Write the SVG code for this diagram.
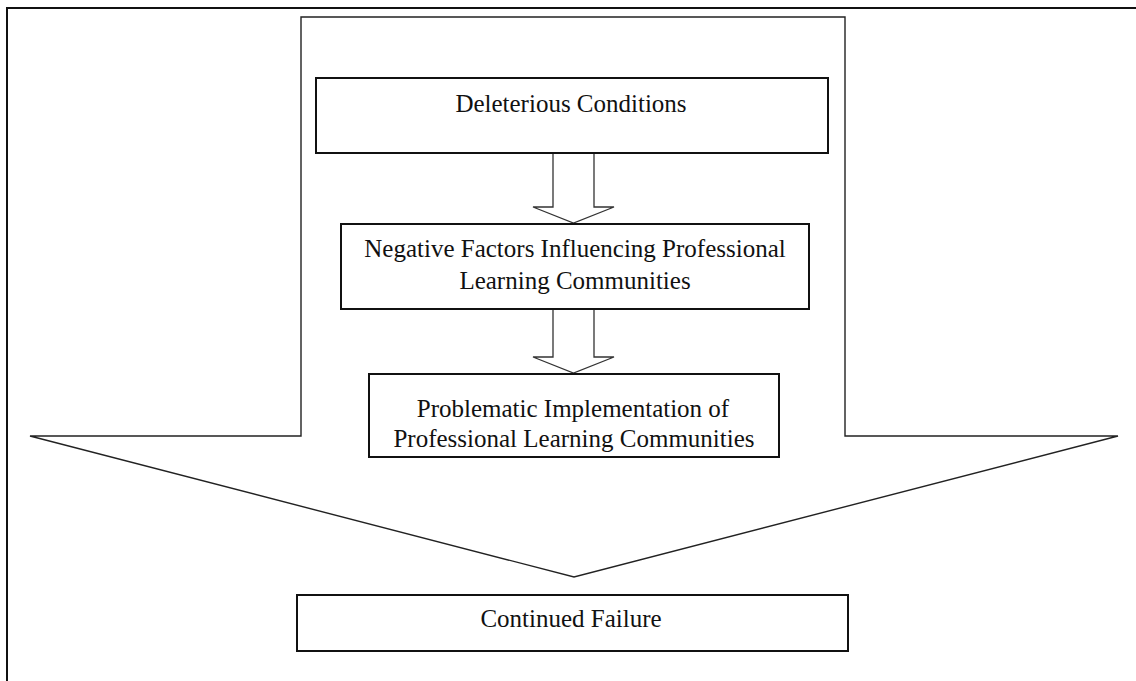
<svg xmlns="http://www.w3.org/2000/svg" width="1136" height="681" viewBox="0 0 1136 681">
  <style>
    .frame { fill: none; stroke: #111; stroke-width: 2; }
    .big { fill: #fff; stroke: #222; stroke-width: 1.4; stroke-linejoin: miter; }
    .box { fill: #fff; stroke: #111; stroke-width: 2; }
    .arrow { fill: #fff; stroke: #333; stroke-width: 1.3; stroke-linejoin: miter; }
    .label { font-family: "Liberation Serif", "Times New Roman", serif; font-size: 25px; fill: #111; text-anchor: middle; }
  </style>
  <rect width="1136" height="681" fill="#fff"/>
  <g id="frame">
    <polyline class="frame" points="1140,8 7,8 7,685"/>
  </g>
  <g id="big-arrow">
    <polygon class="big" points="301,17 845,17 845,436 1118,436 574,577 30,436 301,436"/>
  </g>
  <g id="connectors">
    <polygon class="arrow" points="553,153 594,153 594,207 614,207 573.5,223 533,207 553,207"/>
    <polygon class="arrow" points="553,309 594,309 594,357 614,357 573.5,373 533,357 553,357"/>
  </g>
  <g id="node-deleterious">
    <rect class="box" x="316" y="78" width="512" height="75"/>
    <text class="label" x="571" y="112">Deleterious Conditions</text>
  </g>
  <g id="node-negative">
    <rect class="box" x="341" y="224" width="468" height="85"/>
    <text class="label" x="575" y="257">Negative Factors Influencing Professional</text>
    <text class="label" x="575" y="289">Learning Communities</text>
  </g>
  <g id="node-problematic">
    <rect class="box" x="369" y="374" width="410" height="83"/>
    <text class="label" x="573" y="417">Problematic Implementation of</text>
    <text class="label" x="574" y="447">Professional Learning Communities</text>
  </g>
  <g id="node-failure">
    <rect class="box" x="297" y="595" width="551" height="56"/>
    <text class="label" x="571" y="627">Continued Failure</text>
  </g>
</svg>
